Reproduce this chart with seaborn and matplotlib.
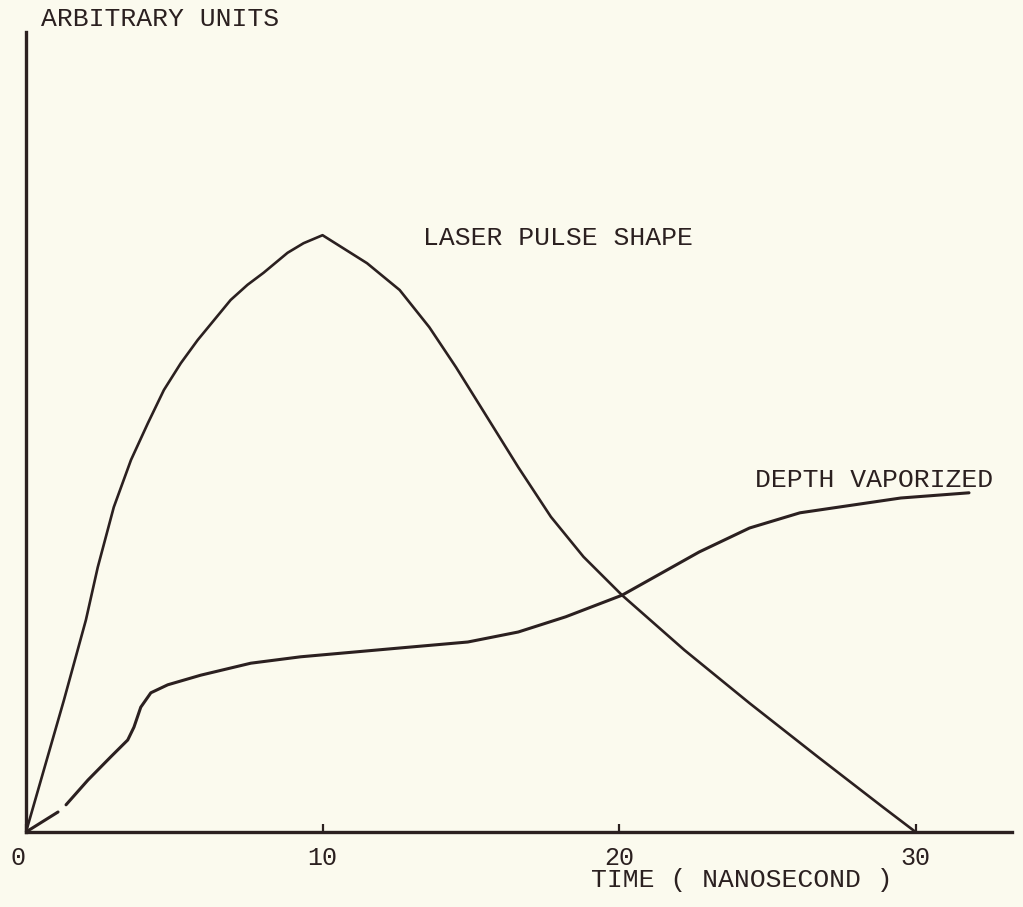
import matplotlib
matplotlib.use("Agg")
import matplotlib.pyplot as plt
import seaborn as sns
import pandas as pd

# ---- data ----
laser_x = [0.0, 1.28, 2.02, 2.42, 2.96, 3.54, 4.11, 4.65, 5.22, 5.79, 6.90, 7.47,
           8.01, 8.82, 9.36, 10.0, 11.5, 12.6, 13.6, 14.5, 15.4, 16.6, 17.7, 18.8,
           20.1, 22.2, 24.4, 26.7, 28.9, 30.0]
laser_y = [0.0, 16.5, 26.5, 33.1, 40.6, 46.5, 51.1, 55.25, 58.6, 61.5, 66.5, 68.4,
           69.9, 72.4, 73.6, 74.6, 71.1, 67.75, 63.1, 58.1, 52.75, 45.6, 39.4, 34.4,
           29.6, 22.75, 16.1, 9.4, 3.1, 0.0]

depth_x = [0.0, 1.08, 1.35, 2.09, 2.86, 3.43, 3.64, 3.87, 4.21, 4.78, 5.89, 7.58,
           9.26, 12.6, 14.9, 16.6, 18.2, 20.1, 22.7, 24.4, 26.1, 29.5, 31.8]
depth_y = [0.0, 2.5, 3.4, 6.5, 9.4, 11.5, 13.1, 15.6, 17.4, 18.4, 19.6, 21.1,
           21.9, 23.0, 23.75, 25.0, 26.9, 29.6, 35.0, 38.0, 39.9, 41.75, 42.4]
depth_segment = [0, 0] + [1] * 21

tick_values = [0, 10, 20, 30]
tick_labels = ["0", "10", "20", "30"]

x_label = "TIME ( NANOSECOND )"
y_label = "ARBITRARY UNITS"
laser_label = "LASER PULSE SHAPE"
depth_label = "DEPTH VAPORIZED"

# ---- styling ----
BG = "#fbfaee"
INK = "#2b2020"
sns.set_theme(style="white")
plt.rcParams["font.family"] = ["Liberation Mono", "DejaVu Sans Mono"]

fig = plt.figure(figsize=(10.23, 9.07), dpi=100)
fig.patch.set_facecolor(BG)
ax = fig.add_axes([26 / 1023, 75 / 907, 986 / 1023, 800 / 907])
ax.set_facecolor(BG)

laser_df = pd.DataFrame({"t": laser_x, "v": laser_y})
depth_df = pd.DataFrame({"t": depth_x, "v": depth_y, "seg": depth_segment})

sns.lineplot(data=laser_df, x="t", y="v", ax=ax, color=INK, lw=1.9,
             sort=False, estimator=None, solid_joinstyle="round",
             solid_capstyle="round")
sns.lineplot(data=depth_df, x="t", y="v", units="seg", ax=ax, color=INK, lw=2.2,
             sort=False, estimator=None, solid_joinstyle="round",
             solid_capstyle="round")

ax.set_xlim(0, 33.25)
ax.set_ylim(0, 100)

for side in ["top", "right"]:
    ax.spines[side].set_visible(False)
for side in ["left", "bottom"]:
    ax.spines[side].set_color(INK)
    ax.spines[side].set_linewidth(2.4)

ax.set_xticks(tick_values)
ax.set_xticklabels(tick_labels, fontsize=18, color=INK)
ax.tick_params(axis="x", direction="in", length=6, width=1.6, color=INK, pad=10,
               bottom=True)
ax.set_yticks([])
tl = ax.get_xticklabels()
tl[0].set_horizontalalignment("right")

ax.set_xlabel(x_label, fontsize=19, color=INK)
ax.xaxis.set_label_coords((742 - 26) / 986, (832 - 868) / 800)
ax.set_ylabel(y_label, fontsize=19, color=INK, rotation=0, ha="center", va="center")
ax.yaxis.set_label_coords((160 - 26) / 986, (832 - 19) / 800)

ax.text(17.94, 74.25, laser_label, fontsize=19, color=INK, ha="center", va="center")
ax.text(28.6, 44.0, depth_label, fontsize=19, color=INK, ha="center", va="center")

fig.savefig("out.png", dpi=100, facecolor=BG)
